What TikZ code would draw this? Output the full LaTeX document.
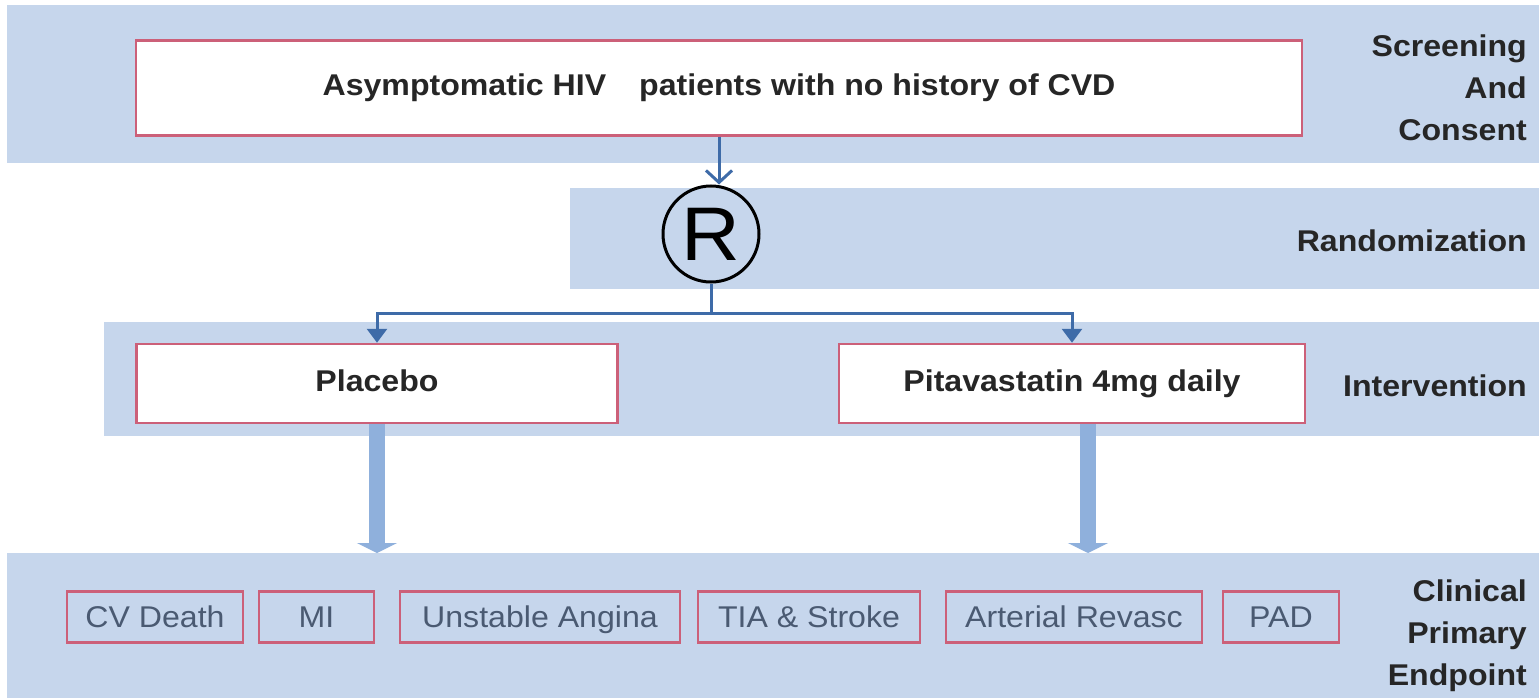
\documentclass[tikz,border=0pt]{standalone}
\usepackage{fontspec}
\setmainfont{Liberation Sans}[FakeStretch=1.07]
\usetikzlibrary{arrows.meta}
\definecolor{bandc}{HTML}{C6D6EC}
\definecolor{boxline}{HTML}{CC6079}
\definecolor{thinarc}{HTML}{3E6BA8}
\definecolor{thickarc}{HTML}{8FB0DC}
\definecolor{smalltext}{HTML}{4A5A72}
\tikzset{
  band/.style={fill=bandc, draw=none, inner sep=0pt, anchor=north west},
  mainbox/.style={draw=boxline, fill=white, line width=2.5pt, inner sep=0pt,
    text height=22pt, text depth=6pt,
    font=\fontsize{30}{36}\selectfont\bfseries, text=black!85},
  smallbox/.style={draw=boxline, line width=2.5pt, inner sep=0pt, minimum height=51pt,
    text height=21pt, text depth=0pt,
    font=\fontsize{30}{34}\selectfont, text=smalltext},
  phase/.style={anchor=east, align=right, inner sep=0pt,
    font=\fontsize{30}{42}\selectfont\bfseries, text=black!85},
  thinarrv/.style={draw=thinarc, line width=3pt, -{Straight Barb[length=12pt,width=26pt]}},
  thinarr/.style={draw=thinarc, line width=3pt, -{Triangle[length=14pt,width=20pt]}},
  thinline/.style={draw=thinarc, line width=3pt},
  thickarr/.style={draw=thickarc, line width=16pt, -{Triangle[length=10pt,width=40pt]}},
  randc/.style={circle, draw=black, line width=3pt, minimum size=96pt, inner sep=0pt,
    font=\fontsize{76}{80}\selectfont}
}
\begin{document}
\begin{tikzpicture}[x=1pt,y=-1pt]
\useasboundingbox (0,0) rectangle (1539,698);
\fill[white] (0,0) rectangle (1539,698);
% bands
\node[band, minimum width=1532pt, minimum height=158pt] (b1) at (7,5) {};
\node[band, minimum width=969pt, minimum height=101pt] (b2) at (570,188) {};
\node[band, minimum width=1435pt, minimum height=114pt] (b3) at (104,322) {};
\node[band, minimum width=1532pt, minimum height=145pt] (b4) at (7,553) {};
% main boxes
\node[mainbox, minimum width=1166pt, minimum height=95pt] (top) at (719,88)
  {Asymptomatic HIV\hspace{1.1em}patients with no history of CVD};
\node[randc] (rand) at (711,234) {R};
\node[mainbox, minimum width=481pt, minimum height=79pt] (placebo) at (377,383.5) {Placebo};
\node[mainbox, minimum width=466pt, minimum height=79pt] (pita) at (1072,383.5) {Pitavastatin 4mg daily};
% small boxes
\node[smallbox, minimum width=176pt] (cvd) at (155,617) {CV Death};
\node[smallbox, minimum width=115pt] (mi) at (316.5,617) {MI};
\node[smallbox, minimum width=280pt] (ua) at (540,617) {Unstable Angina};
\node[smallbox, minimum width=222pt] (tia) at (809,617) {TIA \& Stroke};
\node[smallbox, minimum width=256pt] (ar) at (1074,617) {Arterial Revasc};
\node[smallbox, minimum width=116pt] (pad) at (1281,617) {PAD};
% phase labels
\node[phase] (l1) at (1527,88) {Screening\\And\\Consent};
\node[phase] (l2) at (1527,241) {Randomization};
\node[phase] (l3) at (1527,386) {Intervention};
\node[phase] (l4) at (1527,636) {Clinical\\Primary\\Endpoint};
% connectors
\draw[thinarrv] (top.south) -- (top.south |- rand.north);
\coordinate (split) at (711,313);
\draw[thinline] (rand.south) -- (split);
\draw[thinarr] (split) -| (placebo.north);
\draw[thinarr] (split) -| (pita.north);
\draw[thickarr] (placebo.south) -- (placebo.south |- b4.north);
\draw[thickarr] ([xshift=16pt]pita.south) -- ([xshift=16pt]pita.south |- b4.north);
\end{tikzpicture}
\end{document}
